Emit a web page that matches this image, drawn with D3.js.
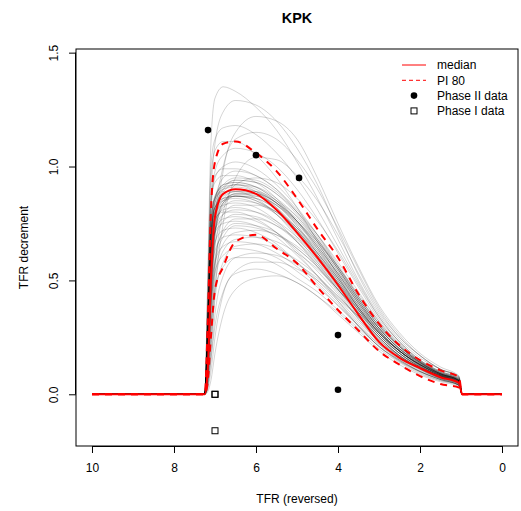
<!DOCTYPE html>
<html>
<head>
<meta charset="utf-8">
<script src="https://cdn.jsdelivr.net/npm/d3@7/dist/d3.min.js"></script>
<style>
  html, body { margin: 0; padding: 0; background: #fff; }
  svg { display: block; font-family: "Liberation Sans", Arial, sans-serif; }
</style>
</head>
<body>
<svg id="chart" width="521" height="511"></svg>
<script>
// ---------------- DATA ----------------
const title = "KPK";
const xLabel = "TFR (reversed)";
const yLabel = "TFR decrement";
const xTicks = [10, 8, 6, 4, 2, 0];
const yTicks = [0.0, 0.5, 1.0, 1.5];

// common TFR grid on which every trajectory is sampled
const tfrGrid = [10, 7.25, 7.18, 7.1, 7.0, 6.8, 6.5, 6.0, 5.5, 5.0, 4.5, 4.0, 3.5, 3.0, 2.5, 2.0, 1.5, 1.05, 0.97, 0];

const medianValues = [0, 0, 0.10, 0.50, 0.78, 0.88, 0.90, 0.88, 0.81, 0.71, 0.60, 0.48, 0.35, 0.23, 0.16, 0.115, 0.075, 0.05, 0, 0];
const upperPI80   = [0, 0, 0.30, 0.80, 1.02, 1.10, 1.11, 1.06, 0.98, 0.86, 0.725, 0.60, 0.44, 0.31, 0.215, 0.15, 0.105, 0.075, 0, 0];
const lowerPI80   = [0, 0, 0.05, 0.25, 0.46, 0.56, 0.67, 0.70, 0.64, 0.575, 0.47, 0.37, 0.28, 0.19, 0.13, 0.08, 0.045, 0.03, 0, 0];

// simulated trajectories (grey lines)
const trajectories = [
  [0,0,.5,1.1,1.3,1.35,1.33,1.26,1.16,1.02,.86,.68,.50,.35,.24,.16,.11,.08,0,0],
  [0,0,.3,.85,1.1,1.24,1.29,1.27,1.2,1.08,.92,.72,.52,.36,.25,.17,.11,.075,0,0],
  [0,0,.1,.4,.7,.98,1.15,1.22,1.2,1.12,.95,.75,.56,.39,.27,.18,.12,.08,0,0],
  [0,0,.4,1.0,1.12,1.17,1.18,1.14,1.06,.95,.81,.65,.49,.34,.23,.15,.1,.07,0,0],
  [0,0,.45,.95,1.07,1.11,1.11,1.05,.95,.82,.67,.52,.38,.27,.19,.13,.09,.06,0,0],
  [0,0,.05,.2,.45,.75,.95,1.04,1.03,.96,.85,.70,.53,.37,.25,.17,.11,.075,0,0],
  [0,0,.3,.8,.95,1.0,1.02,.99,.92,.82,.70,.56,.42,.30,.21,.14,.09,.06,0,0],
  [0,0,.35,.85,.96,.99,.99,.96,.90,.81,.70,.57,.43,.31,.21,.14,.095,.065,0,0],
  [0,0,.2,.65,.85,.95,.98,.96,.90,.80,.68,.55,.41,.29,.20,.135,.09,.06,0,0],
  [0,0,.4,.85,.93,.96,.96,.93,.86,.76,.64,.51,.38,.27,.19,.13,.085,.055,0,0],
  [0,0,.08,.3,.55,.8,.92,.95,.93,.86,.76,.63,.48,.34,.23,.15,.10,.07,0,0],
  [0,0,.25,.7,.86,.92,.93,.91,.85,.76,.65,.53,.40,.28,.19,.13,.085,.055,0,0],
  [0,0,.3,.75,.87,.91,.92,.89,.82,.72,.61,.49,.36,.25,.17,.12,.08,.05,0,0],
  [0,0,.2,.6,.8,.88,.90,.89,.84,.76,.66,.54,.41,.29,.20,.14,.09,.06,0,0],
  [0,0,.35,.78,.86,.89,.89,.86,.79,.69,.58,.46,.34,.24,.17,.115,.075,.05,0,0],
  [0,0,.12,.45,.7,.84,.88,.88,.84,.77,.67,.55,.42,.30,.21,.145,.095,.065,0,0],
  [0,0,.25,.68,.82,.86,.87,.85,.79,.70,.59,.47,.35,.24,.165,.11,.07,.045,0,0],
  [0,0,.3,.72,.82,.85,.86,.84,.79,.71,.61,.50,.38,.27,.18,.125,.08,.055,0,0],
  [0,0,.15,.5,.72,.82,.85,.84,.80,.72,.62,.51,.39,.28,.19,.13,.085,.06,0,0],
  [0,0,.28,.7,.80,.83,.84,.82,.76,.67,.56,.45,.33,.23,.16,.11,.07,.045,0,0],
  [0,0,.1,.4,.65,.79,.83,.83,.80,.73,.64,.53,.41,.29,.20,.14,.09,.06,0,0],
  [0,0,.22,.62,.76,.81,.82,.80,.75,.67,.57,.46,.35,.25,.17,.115,.075,.05,0,0],
  [0,0,.3,.7,.77,.80,.80,.77,.71,.62,.52,.41,.30,.21,.145,.10,.065,.04,0,0],
  [0,0,.12,.45,.66,.76,.79,.78,.74,.67,.58,.48,.37,.27,.19,.13,.085,.055,0,0],
  [0,0,.2,.6,.72,.77,.78,.76,.71,.63,.54,.44,.33,.24,.165,.11,.07,.045,0,0],
  [0,0,.08,.35,.58,.72,.77,.77,.74,.68,.59,.49,.38,.28,.19,.13,.085,.06,0,0],
  [0,0,.25,.62,.71,.75,.76,.74,.69,.61,.52,.42,.32,.23,.16,.105,.07,.045,0,0],
  [0,0,.1,.4,.6,.71,.75,.74,.71,.64,.56,.46,.36,.26,.18,.12,.08,.05,0,0],
  [0,0,.2,.55,.67,.72,.73,.71,.66,.58,.49,.40,.30,.21,.15,.10,.065,.04,0,0],
  [0,0,.06,.3,.52,.66,.71,.72,.70,.65,.57,.47,.37,.27,.19,.13,.085,.055,0,0],
  [0,0,.15,.5,.63,.69,.70,.69,.65,.58,.50,.41,.31,.22,.155,.10,.065,.04,0,0],
  [0,0,.05,.25,.48,.63,.68,.69,.67,.62,.55,.46,.36,.26,.18,.12,.08,.05,0,0],
  [0,0,.12,.42,.58,.65,.67,.66,.62,.56,.48,.39,.30,.21,.15,.10,.065,.04,0,0],
  [0,0,.04,.2,.42,.58,.65,.66,.64,.59,.52,.43,.34,.25,.17,.115,.075,.05,0,0],
  [0,0,.1,.38,.54,.61,.64,.63,.60,.54,.47,.39,.30,.22,.15,.10,.065,.04,0,0],
  [0,0,.03,.15,.35,.52,.60,.62,.61,.57,.51,.43,.34,.25,.17,.115,.075,.05,0,0],
  [0,0,.06,.28,.46,.56,.60,.60,.57,.51,.45,.37,.29,.21,.145,.095,.06,.04,0,0],
  [0,0,.02,.1,.25,.44,.54,.58,.58,.55,.50,.42,.34,.25,.17,.115,.075,.05,0,0],
  [0,0,.03,.15,.3,.45,.53,.55,.53,.49,.43,.36,.28,.20,.14,.09,.06,.04,0,0],
  [0,0,.01,.06,.18,.35,.46,.51,.52,.49,.43,.35,.27,.19,.13,.085,.055,.035,0,0],
  [0,0,.3,.8,.98,1.05,1.08,1.06,1.0,.90,.77,.62,.47,.33,.23,.15,.10,.07,0,0],
  [0,0,.1,.45,.75,1.0,1.12,1.15,1.12,1.03,.90,.73,.55,.38,.26,.17,.11,.075,0,0],
  [0,0,.22,.65,.84,.91,.94,.93,.88,.79,.68,.55,.42,.30,.21,.14,.09,.06,0,0],
  [0,0,.18,.55,.72,.79,.81,.80,.76,.69,.60,.49,.37,.27,.19,.125,.08,.055,0,0],
  [0,0,.08,.36,.57,.69,.74,.73,.70,.64,.56,.46,.36,.26,.18,.12,.08,.05,0,0],
  [0,0,.2,.62,.8,.87,.89,.88,.83,.74,.63,.51,.38,.27,.19,.13,.085,.055,0,0],
  [0,0,.25,.68,.84,.9,.92,.91,.86,.78,.67,.55,.42,.30,.21,.14,.09,.06,0,0],
  [0,0,.15,.55,.76,.85,.88,.87,.83,.75,.65,.53,.40,.28,.195,.13,.085,.055,0,0],
  [0,0,.3,.75,.86,.9,.91,.89,.84,.75,.64,.52,.39,.275,.19,.125,.08,.05,0,0],
  [0,0,.18,.58,.78,.86,.89,.89,.85,.78,.68,.56,.43,.31,.21,.14,.09,.06,0,0],
  [0,0,.22,.64,.82,.89,.92,.90,.84,.74,.62,.50,.37,.26,.18,.12,.08,.05,0,0],
  [0,0,.28,.72,.86,.92,.95,.94,.89,.80,.69,.56,.43,.31,.215,.145,.095,.065,0,0],
  [0,0,.12,.48,.72,.84,.88,.88,.84,.76,.66,.54,.41,.29,.20,.135,.09,.06,0,0],
  [0,0,.2,.6,.78,.85,.87,.86,.81,.73,.63,.52,.40,.29,.20,.135,.09,.06,0,0],
  [0,0,.3,.74,.87,.92,.93,.91,.85,.76,.65,.53,.40,.29,.20,.135,.09,.06,0,0],
  [0,0,.15,.52,.74,.84,.87,.86,.81,.72,.61,.49,.37,.26,.18,.12,.08,.05,0,0],
  [0,0,.25,.66,.82,.88,.90,.88,.82,.73,.62,.50,.38,.27,.19,.13,.085,.055,0,0],
  [0,0,.2,.6,.8,.9,.94,.93,.88,.80,.70,.58,.45,.32,.22,.145,.095,.065,0,0],
  [0,0,.1,.45,.7,.83,.87,.87,.83,.76,.67,.56,.44,.32,.22,.145,.095,.065,0,0],
  [0,0,.28,.7,.82,.86,.87,.85,.80,.72,.62,.51,.39,.28,.19,.125,.08,.05,0,0]
];

// observed data
const phase2Tfr    = [7.17, 6.0, 4.95, 4.0, 4.0];
const phase2Values = [1.16, 1.05, 0.95, 0.26, 0.02];
const phase1Tfr    = [7.0, 7.0, 7.0];
const phase1Values = [0.0, 0.0, -0.16];

const legendLabels = ["median", "PI 80", "Phase II data", "Phase I data"];

// ---------------- LAYOUT ----------------
const svg = d3.select("#chart");
const plot = { left: 76, right: 518, top: 49, bottom: 446 };

const x = d3.scaleLinear().domain([10.39, -0.39]).range([plot.left, plot.right]);
const y = d3.scaleLinear().domain([-0.227, 1.516]).range([plot.bottom, plot.top]);

const line = d3.line()
  .x((d, i) => x(tfrGrid[i]))
  .y(d => y(d))
  .curve(d3.curveMonotoneX);

svg.append("defs").append("clipPath").attr("id", "clip")
  .append("rect").attr("x", plot.left).attr("y", plot.top)
  .attr("width", plot.right - plot.left).attr("height", plot.bottom - plot.top);

const g = svg.append("g").attr("clip-path", "url(#clip)");

// grey trajectories
g.selectAll("path.traj").data(trajectories).enter().append("path")
  .attr("class", "traj")
  .attr("d", line)
  .attr("fill", "none")
  .attr("stroke", "rgba(0,0,0,0.17)")
  .attr("stroke-width", 1);

// PI 80
[upperPI80, lowerPI80].forEach(arr => {
  g.append("path").attr("d", line(arr))
    .attr("fill", "none").attr("stroke", "#ff0000")
    .attr("stroke-width", 2).attr("stroke-dasharray", "7,6");
});
// median
g.append("path").attr("d", line(medianValues))
  .attr("fill", "none").attr("stroke", "#ff0000").attr("stroke-width", 2);

// Phase II points
svg.selectAll("circle.p2").data(phase2Tfr).enter().append("circle")
  .attr("class", "p2")
  .attr("cx", d => x(d))
  .attr("cy", (d, i) => y(phase2Values[i]))
  .attr("r", 3.3).attr("fill", "#000");

// Phase I squares
svg.selectAll("rect.p1").data(phase1Tfr).enter().append("rect")
  .attr("class", "p1")
  .attr("x", d => x(d) - 3)
  .attr("y", (d, i) => y(phase1Values[i]) - 3)
  .attr("width", 6).attr("height", 6)
  .attr("fill", "none").attr("stroke", "#000").attr("stroke-width", 1);

// box
svg.append("rect").attr("x", plot.left).attr("y", plot.top)
  .attr("width", plot.right - plot.left).attr("height", plot.bottom - plot.top)
  .attr("fill", "none").attr("stroke", "#000").attr("stroke-width", 1);

// axes
const xAxis = d3.axisBottom(x).tickValues(xTicks).tickSize(7).tickPadding(10).tickFormat(d3.format("d"));
const xg = svg.append("g").attr("transform", `translate(0,${plot.bottom})`).call(xAxis);
xg.select(".domain").attr("d", `M${x(10)},0.5H${x(0)}`);

const yAxis = d3.axisLeft(y).tickValues(yTicks).tickSize(7).tickPadding(0).tickFormat(d3.format(".1f"));
const yg = svg.append("g").attr("transform", `translate(${plot.left},0)`).call(yAxis);
yg.select(".domain").attr("d", `M-0.5,${y(0)}V${y(1.5)}`);
[xg, yg].forEach(a => {
  a.selectAll("text").attr("font-size", 12).attr("fill", "#000")
    .attr("font-family", "Liberation Sans, Arial, sans-serif");
  a.selectAll("line").attr("stroke", "#000");
  a.select(".domain").attr("stroke", "#000");
});
// y tick labels rotated like R (las = 0)
yg.selectAll(".tick text").attr("transform", "rotate(-90)")
  .attr("text-anchor", "middle").attr("x", 0).attr("y", -18).attr("dy", 0);

// titles
svg.append("text").attr("x", (plot.left + plot.right) / 2).attr("y", 23)
  .attr("text-anchor", "middle").attr("font-weight", "bold").attr("font-size", 14.4)
  .text(title);
svg.append("text").attr("x", (plot.left + plot.right) / 2).attr("y", 503)
  .attr("text-anchor", "middle").attr("font-size", 12).text(xLabel);
svg.append("text").attr("transform", `translate(28,${(plot.top + plot.bottom) / 2}) rotate(-90)`)
  .attr("text-anchor", "middle").attr("font-size", 12).text(yLabel);

// legend
const lg = svg.append("g").attr("transform", "translate(402,65)");
const rowH = 15.3;
legendLabels.forEach((lab, i) => {
  const cy = i * rowH;
  if (i < 2) {
    lg.append("line").attr("x1", 0).attr("x2", 24).attr("y1", cy).attr("y2", cy)
      .attr("stroke", "#ff0000").attr("stroke-width", 1)
      .attr("stroke-dasharray", i === 1 ? "4,3" : null);
  } else if (i === 2) {
    lg.append("circle").attr("cx", 12).attr("cy", cy).attr("r", 3.3).attr("fill", "#000");
  } else {
    lg.append("rect").attr("x", 9).attr("y", cy - 3).attr("width", 6).attr("height", 6)
      .attr("fill", "none").attr("stroke", "#000");
  }
  lg.append("text").attr("x", 35).attr("y", cy).attr("dy", "0.35em")
    .attr("font-size", 12).text(lab);
});
</script>
</body>
</html>
